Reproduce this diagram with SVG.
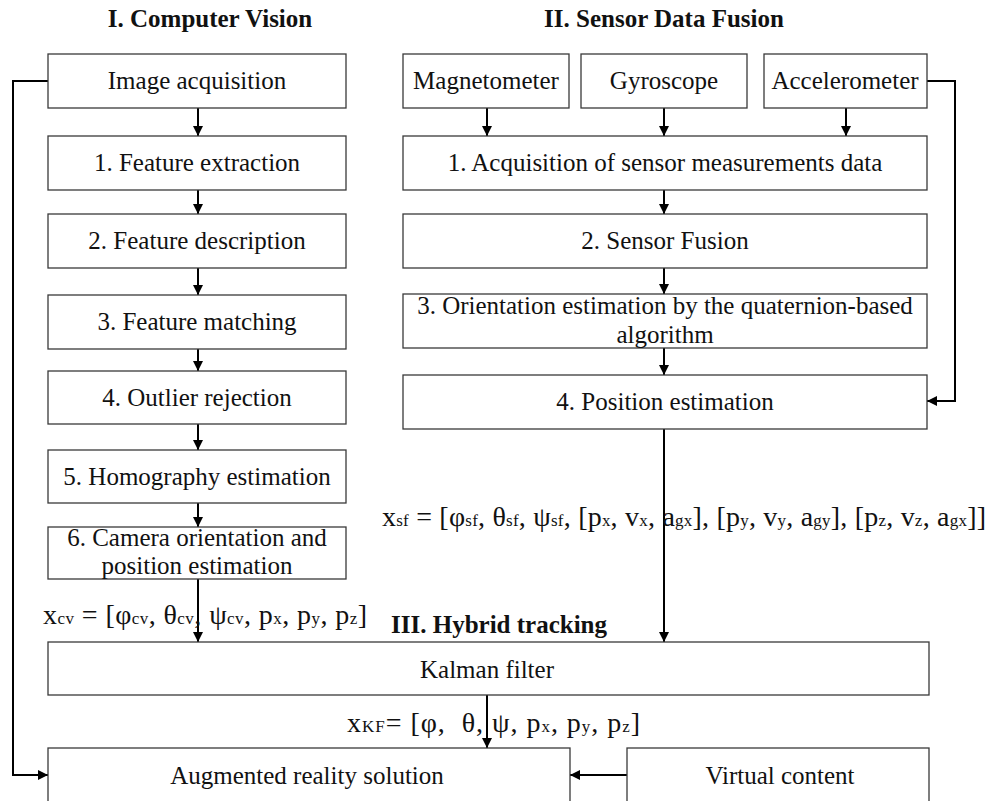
<svg xmlns="http://www.w3.org/2000/svg" width="991" height="801" viewBox="0 0 991 801">
<defs>
<style>
.box{fill:#fff;stroke:#3a3a3a;stroke-width:1.3}
.t{font-family:"Liberation Serif","Times New Roman",serif;font-size:25px;fill:#111;text-anchor:middle}
.h{font-family:"Liberation Serif","Times New Roman",serif;font-size:25px;font-weight:bold;fill:#111}
.f{font-family:"Liberation Serif","Times New Roman",serif;font-size:28px;fill:#111}
.s{font-size:17px}
.c{fill:none;stroke:#000;stroke-width:2}
</style>
<marker id="ah" viewBox="0 0 10 10" refX="10" refY="5" markerWidth="5" markerHeight="5" orient="auto" markerUnits="strokeWidth">
<path d="M0,0 L10,5 L0,10 z" fill="#000"/>
</marker>
</defs>
<rect width="991" height="801" fill="#fff"/>

<text class="h" x="210" y="27" text-anchor="middle">I. Computer Vision</text>
<text class="h" x="664" y="27" text-anchor="middle">II. Sensor Data Fusion</text>
<text class="h" x="391" y="633">III. Hybrid tracking</text>

<g id="connectors">
<line class="c" x1="198" y1="108" x2="198" y2="136" marker-end="url(#ah)"/>
<line class="c" x1="198" y1="190" x2="198" y2="214" marker-end="url(#ah)"/>
<line class="c" x1="198" y1="268" x2="198" y2="295" marker-end="url(#ah)"/>
<line class="c" x1="198" y1="349" x2="198" y2="371" marker-end="url(#ah)"/>
<line class="c" x1="198" y1="424" x2="198" y2="450" marker-end="url(#ah)"/>
<line class="c" x1="198" y1="503" x2="198" y2="527" marker-end="url(#ah)"/>
<line class="c" x1="198" y1="579" x2="198" y2="642" marker-end="url(#ah)"/>
<polyline class="c" points="48,81 13,81 13,775 48,775" marker-end="url(#ah)"/>
<line class="c" x1="487" y1="108" x2="487" y2="136" marker-end="url(#ah)"/>
<line class="c" x1="664" y1="108" x2="664" y2="136" marker-end="url(#ah)"/>
<line class="c" x1="846" y1="108" x2="846" y2="136" marker-end="url(#ah)"/>
<polyline class="c" points="927,81 955,81 955,401 927,401" marker-end="url(#ah)"/>
<line class="c" x1="664" y1="190" x2="664" y2="214" marker-end="url(#ah)"/>
<line class="c" x1="664" y1="268" x2="664" y2="294" marker-end="url(#ah)"/>
<line class="c" x1="664" y1="348" x2="664" y2="375" marker-end="url(#ah)"/>
<line class="c" x1="664" y1="429" x2="664" y2="642" marker-end="url(#ah)"/>
<line class="c" x1="487" y1="695" x2="487" y2="748" marker-end="url(#ah)"/>
<line class="c" x1="627" y1="775" x2="570" y2="775" marker-end="url(#ah)"/>
</g>

<g id="n-image"><rect class="box" x="48" y="54" width="298" height="54"/><text class="t" x="197" y="89">Image acquisition</text></g>
<g id="n-fe"><rect class="box" x="48" y="136" width="298" height="54"/><text class="t" x="197" y="171">1. Feature extraction</text></g>
<g id="n-fd"><rect class="box" x="48" y="214" width="298" height="54"/><text class="t" x="197" y="249">2. Feature description</text></g>
<g id="n-fm"><rect class="box" x="48" y="295" width="298" height="54"/><text class="t" x="197" y="330">3. Feature matching</text></g>
<g id="n-or"><rect class="box" x="48" y="371" width="298" height="53"/><text class="t" x="197" y="406">4. Outlier rejection</text></g>
<g id="n-he"><rect class="box" x="48" y="450" width="298" height="53"/><text class="t" x="197" y="485">5. Homography estimation</text></g>
<g id="n-co"><rect class="box" x="48" y="527" width="298" height="52"/><text class="t" x="197" y="546">6. Camera orientation and</text><text class="t" x="197" y="574">position estimation</text></g>

<g id="n-mag"><rect class="box" x="403" y="54" width="166" height="54"/><text class="t" x="486" y="89">Magnetometer</text></g>
<g id="n-gyro"><rect class="box" x="581" y="54" width="166" height="54"/><text class="t" x="664" y="89">Gyroscope</text></g>
<g id="n-acc"><rect class="box" x="764" y="54" width="163" height="54"/><text class="t" x="845" y="89">Accelerometer</text></g>
<g id="n-acq"><rect class="box" x="403" y="136" width="524" height="54"/><text class="t" x="665" y="171">1. Acquisition of sensor measurements data</text></g>
<g id="n-sf"><rect class="box" x="403" y="214" width="524" height="54"/><text class="t" x="665" y="249">2. Sensor Fusion</text></g>
<g id="n-oe"><rect class="box" x="403" y="294" width="524" height="54"/><text class="t" x="665" y="314">3. Orientation estimation by the quaternion-based</text><text class="t" x="665" y="343">algorithm</text></g>
<g id="n-pe"><rect class="box" x="403" y="375" width="524" height="54"/><text class="t" x="665" y="410">4. Position estimation</text></g>

<g id="n-kf"><rect class="box" x="48" y="642" width="881" height="53"/><text class="t" x="487" y="678">Kalman filter</text></g>
<g id="n-ar"><rect class="box" x="48" y="748" width="522" height="60"/><text class="t" x="307" y="784">Augmented reality solution</text></g>
<g id="n-vc"><rect class="box" x="627" y="748" width="302" height="60"/><text class="t" x="780" y="784">Virtual content</text></g>

<g id="labels">
<text class="f" x="43" y="624" textLength="324" lengthAdjust="spacing">x<tspan class="s">cv</tspan> = [φ<tspan class="s">cv</tspan>, θ<tspan class="s">cv</tspan>, ψ<tspan class="s">cv</tspan>, p<tspan class="s">x</tspan>, p<tspan class="s">y</tspan>, p<tspan class="s">z</tspan>]</text>
<text class="f" x="382" y="526" textLength="604" lengthAdjust="spacing">x<tspan class="s">sf</tspan> = [φ<tspan class="s">sf</tspan>, θ<tspan class="s">sf</tspan>, ψ<tspan class="s">sf</tspan>, [p<tspan class="s">x</tspan>, v<tspan class="s">x</tspan>, a<tspan class="s">gx</tspan>], [p<tspan class="s">y</tspan>, v<tspan class="s">y</tspan>, a<tspan class="s">gy</tspan>], [p<tspan class="s">z</tspan>, v<tspan class="s">z</tspan>, a<tspan class="s">gx</tspan>]]</text>
<text class="f" x="347" y="732" xml:space="preserve" textLength="293" lengthAdjust="spacing">x<tspan class="s">KF</tspan>= [φ,  θ, ψ, p<tspan class="s">x</tspan>, p<tspan class="s">y</tspan>, p<tspan class="s">z</tspan>]</text>
</g>
</svg>
